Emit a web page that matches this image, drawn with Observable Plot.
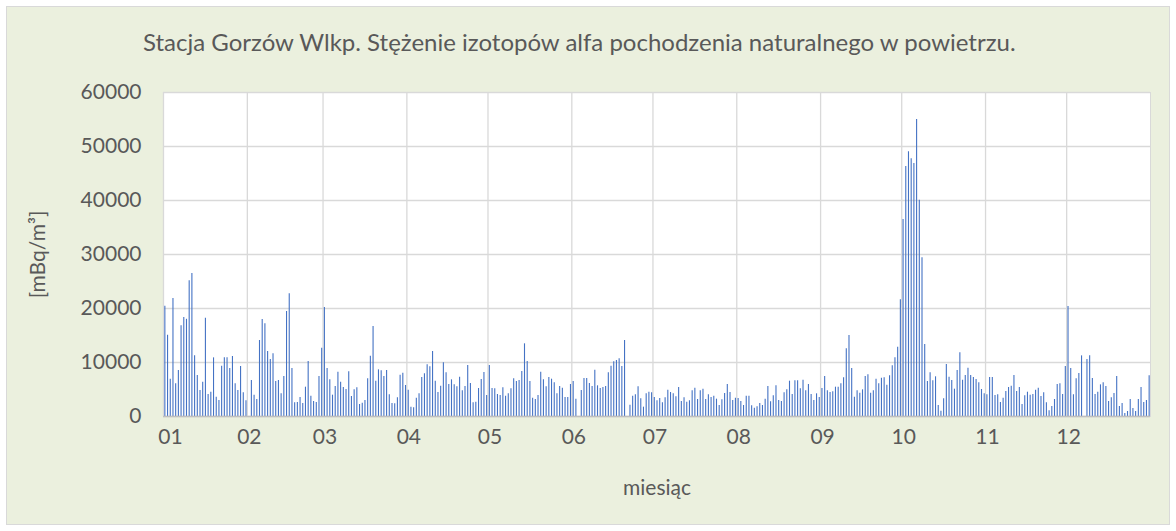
<!DOCTYPE html>
<html>
<head>
<meta charset="utf-8">
<script src="https://cdn.jsdelivr.net/npm/d3@7"></script>
<script src="https://cdn.jsdelivr.net/npm/@observablehq/plot@0.6"></script>
<style>
  html, body { margin: 0; padding: 0; background: #ffffff; }
  #wrap { position: relative; width: 1176px; height: 531px; overflow: hidden; }
  #bg { position: absolute; left: 6px; top: 6px; width: 1162px; height: 517px; background: #EBF0DE; border: 1px solid #D9D9D9; }
  #title { position: absolute; left: 143px; top: 28px; font-family: Lato, "Open Sans", sans-serif; font-size: 24px; line-height: 1.2; color: #595959; white-space: nowrap; }
  #chart { position: absolute; left: 0; top: 0; }
</style>
</head>
<body>
<div id="wrap">
  <div id="bg"></div>
  <div id="title"></div>
  <div id="chart"></div>
</div>
<script>
// Daily values [mBq/m³], one array per month (null = no measurement)
const jan = [20400, 15060, 6900, 21850, 6050, 8520, 16790, 18330, 18000, 25120, 26480, 11230, 7590, 4800, 6360, 18210, 4070, 4500, 10860, 3580, 2960, 9320, 10860, 10860, 8890, 11110, 6050, 4800, 9260, 4380, 2900];
const feb = [null, 6670, 3950, 3150, 14070, 17960, 17160, 12040, 10560, 11600, 6480, 6670, 4200, 7410, 19440, 22720, 8890, 2530, 2590, 3520, 2410, 5430, 10190, 3770, 2780, 2590, 7410, 12650];
const mar = [20190, 8890, 6790, 3950, 5560, 8210, 6360, 5370, 5000, 8270, 3700, 4940, 5310, 2220, 2470, 2960, 6980, 11170, 16670, 6540, 8640, 8460, 7410, 8520, 4010, 2410, 2350, 3460, 7650, 8020, 5740];
const apr = [4880, 1730, 1600, 3400, 4200, 7220, 7900, 9570, 9200, 12040, 6540, 4440, 5600, 9940, 8080, 5930, 6790, 5860, 5490, 7280, 4750, 5560, 9440, 6110, 2530, 2650, 5190, 6850, 8150, 3890];
const may = [9440, 5190, 5120, 4070, 3890, 5310, 3770, 4200, 5120, 6980, 6480, 6670, 8330, 13460, 10190, 6480, 3400, 3150, 3890, 8210, 6790, 5490, 7220, 6910, 6230, 4200, 5560, 5250, 3520, 3520, 5930];
const jun = [6480, 3210, null, 4810, 7040, 7040, 6110, 5560, 8580, 5680, 5190, 5370, 5560, 8080, 9320, 10120, 10370, 10680, 9260, 14070, null, 2100, 3730, 4010, 5490, 3270, 1730, 4200, 4500, 4380];
const jul = [3520, 2900, 3330, 2530, 3460, 4880, 4440, 4200, 3640, 5370, 2780, 3460, 2650, 2900, 4750, 5250, 3150, 4750, 5060, 3150, 4010, 3520, 3770, 3210, 2040, 3090, 4260, 5930, 4440, 2960, 3400];
const aug = [3330, 2780, 2040, 3770, 3770, 1980, 1540, 1790, 2410, 2040, 3210, 5560, 2720, 3830, 5680, 2960, 2780, 4380, 4940, 6540, 4070, 6610, 6610, 5120, 6730, 4750, 5930, 4070, 2960, 4200, 3520];
const sep = [5190, 7410, 4750, 4440, 4570, 5430, 5430, 6050, 7160, 12530, 15000, 8890, 3580, 4750, 4320, 4940, 7410, 7720, 4320, 4750, 6910, 6050, 7100, 7160, 5800, 7530, 9380, 10860, 12840, 21600];
const oct = [36480, 46300, 49010, 47720, 46850, 55000, 40060, 29380, 13330, 6480, 8090, 6600, 7350, 2040, 990, 3270, 9630, 7280, 6670, 5060, 8520, 11790, 6730, 7590, 8950, 7590, 7220, 6850, 6230, 5000, 4200];
const nov = [4010, 7220, 7220, 3890, 4010, 2590, 3400, 4630, 5370, 5620, 7590, 4630, 5370, 2220, 3830, 4500, 3950, 4070, 4880, 5250, 3700, 4380, 2530, 1050, 1850, 3150, 5930, 6050, 4070, 9260];
const dec = [20370, 8890, 4010, 6980, 7960, 11230, null, 10560, 11230, 7040, 4070, 4500, 5860, 6230, 5560, 2780, 3460, 4260, 7410, 1850, 2410, 560, 930, 3150, 1480, 930, 3150, 5370, 2590, 2960, 7530];

const months = [jan, feb, mar, apr, may, jun, jul, aug, sep, oct, nov, dec];
const monthLabels = ["01", "02", "03", "04", "05", "06", "07", "08", "09", "10", "11", "12"];
const yTicks = [0, 10000, 20000, 30000, 40000, 50000, 60000];

const titleText = "Stacja Gorzów Wlkp. Stężenie izotopów alfa pochodzenia naturalnego w powietrzu.";
const yLabel = "[mBq/m³]";
const xLabel = "miesiąc";

// Build table: day index within the year
const rows = [];
const monthStarts = [];
let dayIndex = 0;
months.forEach((arr) => {
  monthStarts.push(dayIndex);
  arr.forEach((v) => { rows.push({ day: dayIndex, value: v }); dayIndex++; });
});
const totalDays = dayIndex;
const labelOf = new Map(monthStarts.map((d, i) => [d, monthLabels[i]]));

const textColor = "#595959";
const font = "Lato, 'Open Sans', sans-serif";

const chart = Plot.plot({
  width: 1176,
  height: 531,
  marginLeft: 163,
  marginRight: 26,
  marginTop: 92,
  marginBottom: 115,
  style: { background: "transparent", fontFamily: font, fontSize: "21px", color: textColor },
  x: { domain: [0, totalDays] },
  y: { domain: [0, 60000] },
  marks: [
    Plot.frame({ fill: "white", stroke: "#D9D9D9" }),
    Plot.gridY(yTicks, { stroke: "#D9D9D9", strokeOpacity: 1, strokeWidth: 1.3 }),
    Plot.gridX(monthStarts, { stroke: "#D9D9D9", strokeOpacity: 1, strokeWidth: 1.3 }),
    Plot.ruleX(rows.filter(d => d.value != null), {
      x: d => d.day + 0.5, y1: 0, y2: "value",
      stroke: "#4472C4", strokeWidth: 1.1
    }),
    Plot.ruleY([0], { stroke: "#BFBFBF", strokeWidth: 1.6 }),
    Plot.axisY(yTicks, {
      tickSize: 0, tickPadding: 22, tickFormat: d => String(d),
      fill: textColor, fontSize: 21, label: null
    }),
    Plot.axisX(monthStarts.slice(0, 1), {
      tickSize: 0, tickPadding: 13, tickFormat: d => labelOf.get(d),
      fill: textColor, fontSize: 21, dx: 7, label: null
    }),
    Plot.axisX(monthStarts.slice(1), {
      tickSize: 0, tickPadding: 13, tickFormat: d => labelOf.get(d),
      fill: textColor, fontSize: 21, dx: 2, label: null
    }),
    Plot.text([yLabel], {
      text: d => d, frameAnchor: "left", rotate: -90, dx: -125,
      fill: textColor, fontSize: 21, textAnchor: "middle"
    }),
    Plot.text([xLabel], {
      text: d => d, frameAnchor: "bottom", dy: 78,
      fill: textColor, fontSize: 21, textAnchor: "middle"
    })
  ]
});
document.getElementById("chart").appendChild(chart);
document.getElementById("title").textContent = titleText;
</script>
</body>
</html>
